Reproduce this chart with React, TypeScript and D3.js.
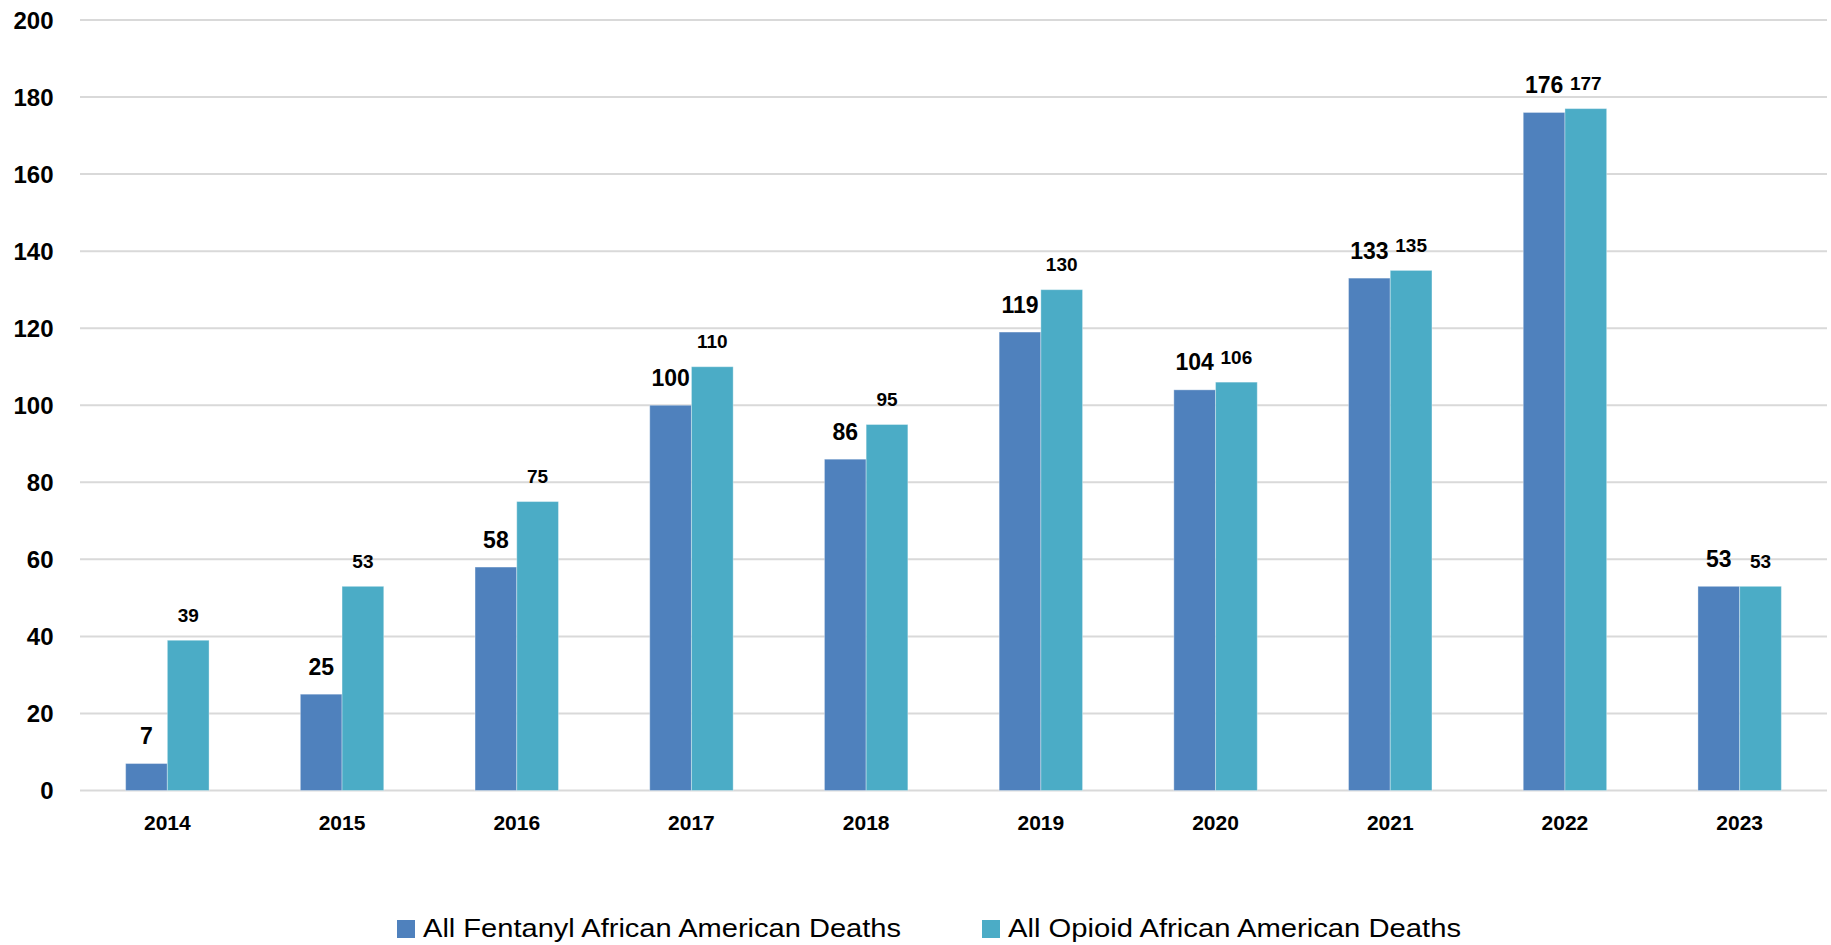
import React from "react";
import * as d3 from "d3";

const years = ["2014", "2015", "2016", "2017", "2018", "2019", "2020", "2021", "2022", "2023"];
const fentanyl = [7, 25, 58, 100, 86, 119, 104, 133, 176, 53];
const opioid = [39, 53, 75, 110, 95, 130, 106, 135, 177, 53];
const seriesNames = ["All Fentanyl African American Deaths", "All Opioid African American Deaths"];
const seriesColors = ["#4F81BD", "#4BACC6"];
const yTicks = [0, 20, 40, 60, 80, 100, 120, 140, 160, 180, 200];

const W = 1831;
const H = 945;

export default function App() {
  const x = d3.scaleBand<string>().domain(years).range([80, 1827]).padding(0);
  const y = d3.scaleLinear().domain([0, 200]).range([790.5, 20]);
  const groupW = x.bandwidth() * 0.4775;
  const x1 = d3.scaleBand<number>().domain([0, 1]).range([0, groupW]).padding(0);
  const fontFam = "'Liberation Sans', Arial, sans-serif";
  const data = [fentanyl, opioid];
  const labelSize = [23, 19];
  const labelGap = [19.5, 18.3];

  const legendItems = [
    { sx: 397, tx: 423, len: 478 },
    { sx: 982, tx: 1008, len: 453 },
  ];

  return (
    <svg
      width={W}
      height={H}
      style={{ position: "absolute", left: 0, top: 0, background: "#fff" }}
      fontFamily={fontFam}
    >
      {yTicks.map((t) => (
        <g key={t}>
          <line x1={80} x2={1827} y1={y(t)} y2={y(t)} stroke="#d9d9d9" strokeWidth={2} />
          <text x={53.5} y={y(t) + 8.5} textAnchor="end" fontSize={24} fontWeight="bold" fill="#000">
            {t}
          </text>
        </g>
      ))}
      {years.map((yr, i) => {
        const gx = (x(yr) as number) + (x.bandwidth() - groupW) / 2;
        return (
          <g key={yr}>
            {data.map((arr, s) => {
              const bx = gx + (x1(s) as number);
              const v = arr[i];
              return (
                <g key={s}>
                  <rect
                    x={bx}
                    y={y(v)}
                    width={x1.bandwidth()}
                    height={y(0) - y(v)}
                    fill={seriesColors[s]}
                    stroke="#ffffff"
                    strokeOpacity={0.35}
                    strokeWidth={1}
                  />
                  <text
                    x={bx + x1.bandwidth() / 2}
                    y={y(v) - labelGap[s]}
                    textAnchor="middle"
                    fontSize={labelSize[s]}
                    fontWeight="bold"
                    fill="#000"
                  >
                    {v}
                  </text>
                </g>
              );
            })}
            <text
              x={(x(yr) as number) + x.bandwidth() / 2}
              y={829.5}
              textAnchor="middle"
              fontSize={21}
              fontWeight="bold"
              fill="#000"
            >
              {yr}
            </text>
          </g>
        );
      })}
      {seriesNames.map((name, s) => (
        <g key={name}>
          <rect x={legendItems[s].sx} y={920} width={18} height={18} fill={seriesColors[s]} />
          <text
            x={legendItems[s].tx}
            y={936.5}
            fontSize={25}
            fill="#000"
            textLength={legendItems[s].len}
            lengthAdjust="spacingAndGlyphs"
          >
            {name}
          </text>
        </g>
      ))}
    </svg>
  );
}
